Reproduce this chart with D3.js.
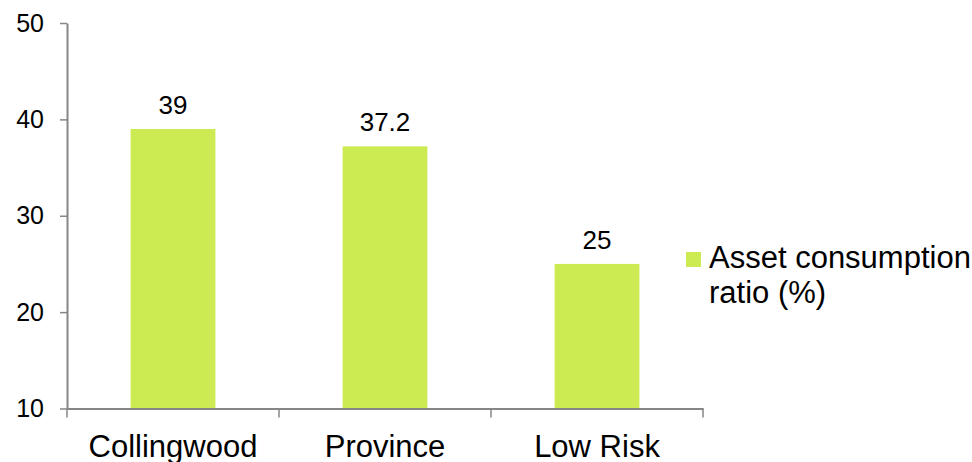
<!DOCTYPE html>
<html>
<head>
<meta charset="utf-8">
<script src="https://cdn.jsdelivr.net/npm/d3@7"></script>
<style>
  body { margin: 0; background: #fff; }
  svg text { font-family: "Liberation Sans", Arial, sans-serif; fill: #000; }
</style>
</head>
<body>
<div id="chart"></div>
<script>
const categories = ["Collingwood", "Province", "Low Risk"];
const values = [39, 37.2, 25];
const yTicks = [10, 20, 30, 40, 50];
const seriesName = ["Asset consumption", "ratio (%)"];

const width = 972;
const height = 462;
const plotLeft = 67, plotRight = 703, plotTop = 23, plotBottom = 408.5;
const barColor = "#cceb52";
const axisColor = "#868686";

const svg = d3.select("#chart")
  .append("svg")
  .attr("width", width)
  .attr("height", height);

const x = d3.scaleBand()
  .domain(categories)
  .range([plotLeft, plotRight])
  .padding(0);

const y = d3.scaleLinear()
  .domain([10, 50])
  .range([plotBottom, plotTop]);

const barW = x.bandwidth() * 0.4;

// bars
svg.selectAll("rect.bar")
  .data(values)
  .join("rect")
  .attr("class", "bar")
  .attr("x", (d, i) => x(categories[i]) + (x.bandwidth() - barW) / 2)
  .attr("y", d => y(d))
  .attr("width", barW)
  .attr("height", d => y(10) - y(d))
  .attr("fill", barColor);

// value labels
svg.selectAll("text.val")
  .data(values)
  .join("text")
  .attr("class", "val")
  .attr("x", (d, i) => x(categories[i]) + x.bandwidth() / 2)
  .attr("y", d => y(d) - 15)
  .attr("text-anchor", "middle")
  .style("font-size", "26px")
  .text(d => d);

// y axis
const yAxis = svg.append("g")
  .attr("transform", `translate(${plotLeft},0)`)
  .call(d3.axisLeft(y).tickValues(yTicks).tickSize(7).tickPadding(16).tickSizeOuter(0));
yAxis.select(".domain").attr("stroke", axisColor).attr("stroke-width", 2);
yAxis.selectAll(".tick line").attr("stroke", axisColor).attr("stroke-width", 1.5);
yAxis.selectAll(".tick text")
  .style("font-size", "25px")
  .attr("fill", "#000");

// x axis
const xAxis = svg.append("g")
  .attr("transform", `translate(0,${plotBottom})`)
  .call(d3.axisBottom(x).tickSize(0).tickPadding(26).tickSizeOuter(0));
xAxis.select(".domain").attr("stroke", axisColor).attr("stroke-width", 2);
xAxis.selectAll(".tick text")
  .style("font-size", "31px")
  .attr("fill", "#000");

// category boundary ticks
const bounds = categories.map(c => x(c)).concat([x(categories[categories.length - 1]) + x.bandwidth()]);
svg.selectAll("line.bound")
  .data(bounds)
  .join("line")
  .attr("class", "bound")
  .attr("x1", d => d).attr("x2", d => d)
  .attr("y1", plotBottom).attr("y2", plotBottom + 9)
  .attr("stroke", axisColor)
  .attr("stroke-width", 1.5);

// legend
const legend = svg.append("g").attr("transform", "translate(686,252)");
legend.append("rect")
  .attr("width", 15)
  .attr("height", 15)
  .attr("fill", barColor);
legend.selectAll("text")
  .data(seriesName)
  .join("text")
  .attr("x", 23)
  .attr("y", (d, i) => 16 + i * 35)
  .style("font-size", "31px")
  .text(d => d);
</script>
</body>
</html>
